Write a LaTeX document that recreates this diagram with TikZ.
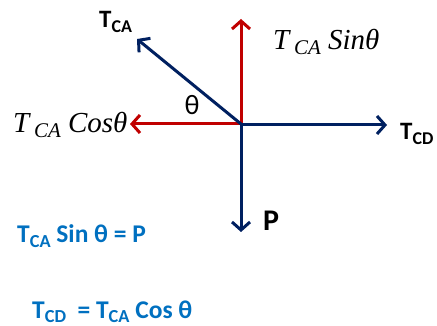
\documentclass[tikz,border=0pt]{standalone}
\usepackage{fontspec}
\setmainfont{Carlito}
\newfontfamily\cambriafont{Liberation Serif}
\usepackage{tikz}
\usetikzlibrary{arrows.meta, positioning}
\definecolor{navy}{RGB}{0,32,96}
\definecolor{compred}{RGB}{192,0,0}
\definecolor{eqblue}{RGB}{0,112,192}
\newcommand{\lowsub}[1]{\raisebox{-0.35ex}{\scalebox{0.72}{#1}}}
\tikzset{
  force/.style  = {-{Straight Barb[length=8pt,width=18pt]}, line width=3pt, navy},
  comp/.style   = {force, compred},
  flabel/.style = {font=\fontsize{25}{28}\selectfont\bfseries, inner sep=0pt},
  clabel/.style = {font=\fontsize{29}{32}\selectfont\cambriafont\itshape, inner sep=0pt},
  eqline/.style = {font=\fontsize{25.5}{28}\selectfont\bfseries, text=eqblue, inner sep=0pt},
}

\begin{document}
\begin{tikzpicture}[x=1pt, y=-1pt]
  \useasboundingbox (0,0) rectangle (437,326);

  \coordinate (O)   at (241,124);
  \coordinate (ca)  at (137,39);
  \coordinate (up)  at (241,19);
  \coordinate (lt)  at (130,124);
  \coordinate (cd)  at (387,125);
  \coordinate (dn)  at (241,232);

  % components
  \draw[comp] ([yshift=-4pt]O) -- (up);
  \draw[comp] (O) -- (lt);
  % forces
  \draw[force] (O) -- (ca);
  \draw[force] ([yshift=-1pt]O) -- (cd);
  \draw[force] (O) -- (dn);

  \node[flabel, anchor=base west] (tca) at (99,28) {T\lowsub{CA}};
  \node[flabel, anchor=base west] (tcd) at (400,140) {T\lowsub{CD}};
  \node[flabel, anchor=base west, font=\fontsize{30}{32}\selectfont\bfseries] (p) at (263,231) {P};
  \node[inner sep=0pt, anchor=base, font=\fontsize{28}{30}\selectfont] (th) at (192,115) {θ};

  \node[clabel, anchor=base west] (sin) at (273,50) {T\,\lowsub{CA} Sinθ};
  \node[clabel, anchor=base west] (cos) at (13,133) {T\,\lowsub{CA} Cosθ};

  \node[eqline, anchor=base west] (eq1) at (17,243) {T\lowsub{CA} Sin θ = P};
  \node[eqline, anchor=base west] (eq2) at (32,318) {T\lowsub{CD}~ = T\lowsub{CA} Cos θ};
\end{tikzpicture}
\end{document}
